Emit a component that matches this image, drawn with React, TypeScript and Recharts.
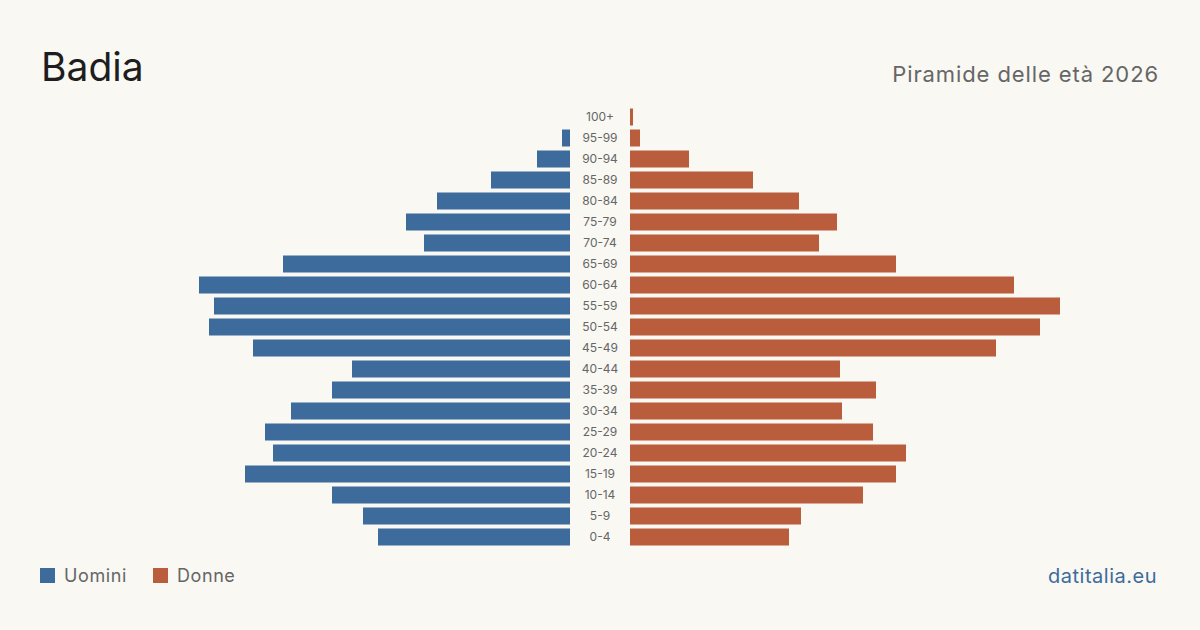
import React from 'react'
import { BarChart, Bar, XAxis, YAxis } from 'recharts'

// age classes, top to bottom
const ageGroups = [
  '100+', '95-99', '90-94', '85-89', '80-84', '75-79', '70-74', '65-69', '60-64', '55-59',
  '50-54', '45-49', '40-44', '35-39', '30-34', '25-29', '20-24', '15-19', '10-14', '5-9', '0-4',
]
const uomini = [0, 8, 33, 79, 133, 164, 146, 287, 371, 356, 361, 317, 218, 238, 279, 305, 297, 325, 238, 207, 192]
const donne = [3, 10, 59, 123, 169, 207, 189, 266, 384, 430, 410, 366, 210, 246, 212, 243, 276, 266, 233, 171, 159]

const MAX = 500
const BLUE = '#3d6b9c'
const ORANGE = '#b95d3d'
const FONT = 'Inter, "Noto Sans", sans-serif'

const rows = ageGroups.map((age, i) => ({ age, uomini: uomini[i], donne: donne[i] }))

const AgeTick = (props: any) => {
  const { y, payload } = props
  return (
    <text x={600 - 570} y={y} dy={4} textAnchor="middle" fontSize={12} fill="#666" fontFamily={FONT}>
      {payload.value}
    </text>
  )
}

export default function App() {
  return (
    <div
      style={{
        position: 'absolute',
        left: 0,
        top: 0,
        width: 1200,
        height: 630,
        background: '#f9f8f3',
        fontFamily: FONT,
        overflow: 'hidden',
      }}
    >
      <div style={{ position: 'absolute', left: 41, top: 43, fontSize: 39, color: '#1e1e1e' }}>Badia</div>
      <div style={{ position: 'absolute', right: 41, top: 61, fontSize: 22, color: '#666', letterSpacing: 0.9 }}>
        Piramide delle età 2026
      </div>

      {/* men, growing leftwards */}
      <div style={{ position: 'absolute', left: 70, top: 0 }}>
        <BarChart
          width={500}
          height={630}
          data={rows}
          layout="vertical"
          margin={{ top: 106.5, right: 0, bottom: 82.5, left: 0 }}
          barSize={17}
        >
          <XAxis type="number" domain={[0, MAX]} reversed hide />
          <YAxis type="category" dataKey="age" hide />
          <Bar dataKey="uomini" fill={BLUE} isAnimationActive={false} />
        </BarChart>
      </div>

      {/* women, with the age labels in the middle */}
      <div style={{ position: 'absolute', left: 570, top: 0 }}>
        <BarChart
          width={560}
          height={630}
          data={rows}
          layout="vertical"
          margin={{ top: 106.5, right: 0, bottom: 82.5, left: 0 }}
          barSize={17}
        >
          <XAxis type="number" domain={[0, MAX]} hide />
          <YAxis
            type="category"
            dataKey="age"
            width={60}
            axisLine={false}
            tickLine={false}
            interval={0}
            tick={<AgeTick />}
          />
          <Bar dataKey="donne" fill={ORANGE} isAnimationActive={false} />
        </BarChart>
      </div>

      <div
        style={{
          position: 'absolute',
          left: 40,
          top: 565,
          display: 'flex',
          alignItems: 'center',
          fontSize: 18,
          color: '#666',
          letterSpacing: 0.6,
        }}
      >
        <span style={{ width: 15, height: 15, background: BLUE, display: 'inline-block', marginRight: 9 }} />
        <span style={{ marginRight: 26 }}>Uomini</span>
        <span style={{ width: 15, height: 15, background: ORANGE, display: 'inline-block', marginRight: 9 }} />
        <span>Donne</span>
      </div>
      <div style={{ position: 'absolute', right: 43, top: 564, fontSize: 20, color: '#3d6b9c', letterSpacing: 0.5 }}>
        datitalia.eu
      </div>
    </div>
  )
}
